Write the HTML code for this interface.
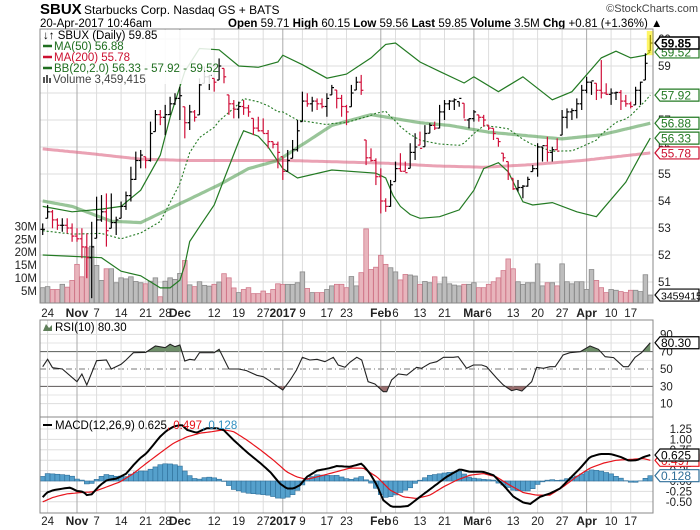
<!DOCTYPE html>
<html><head><meta charset="utf-8"><style>
html,body{margin:0;padding:0;background:#fff;}
svg{display:block;font-family:"Liberation Sans",sans-serif;}
</style></head><body>
<svg id="chart" width="700" height="530" viewBox="0 0 700 530" xmlns="http://www.w3.org/2000/svg">
<g>
<text x="40" y="14" font-size="15" font-weight="bold">SBUX</text>
<text x="84" y="14" font-size="12">Starbucks Corp. Nasdaq GS + BATS</text>
<text x="40" y="27" font-size="11.5">20-Apr-2017 10:46am</text>
<text x="228" y="27" font-size="11.5"><tspan font-weight="bold">Open</tspan> 59.71 <tspan font-weight="bold">High</tspan> 60.15 <tspan font-weight="bold">Low</tspan> 59.56 <tspan font-weight="bold">Last</tspan> 59.85 <tspan font-weight="bold">Volume</tspan> 3.5M <tspan font-weight="bold">Chg</tspan> +0.81 (+1.36%) ▲</text>
<text x="698" y="12" font-size="11" text-anchor="end" fill="#444">©StockCharts.com</text>
</g>
<g id="grid"></g>
<g id="marks"></g>
<g id="labels"></g>
</svg>
<script>
// ---- data ----
const highs = [53.17,53.85,53.67,53.36,53.36,53.36,53.17,52.99,52.99,52.8, 53.23,54.16,54.22,54.28,54.28,53.42,53.98,54.35,55.27,55.83, 55.89,55.64,56.94,57.37,57.37,57.56,57.86,57.99,58.23,57.49, 57.56,57.37,58.54,58.98,58.67,58.54,59.28,58.91,57.93,57.74, 57.68,57.74,57.56,57.06,57.12,57.06,56.63,56.2,56.2,55.64, 55.89,56.26,57.0,58.05,57.99,57.86,57.8,57.8,57.99,58.3, 58.11,57.93,57.56,58.3,58.6,58.67,56.26,55.95,55.58,55.21, 54.1,54.78,55.46,55.77,55.46,56.14,56.51,56.57,56.81,56.88, 56.94,57.56,57.74,57.74,57.8,57.68,57.62,57.06,57.37,57.19, 57.19,56.81,56.69,56.32,55.77,55.46,54.84,54.78,54.59,54.9, 55.33,56.14,56.01,56.38,56.01,56.32,57.37,57.43,57.43,57.8, 58.3,58.6,58.42,58.36,59.22,58.36,58.17,58.05,58.11,57.93, 57.68,58.23,58.42,59.47,60.15];
const lows = [52.74,53.36,52.99,52.93,52.86,52.8,52.49,52.49,51.88,51.14, 50.4,52.62,53.23,52.31,52.99,52.74,53.36,53.67,53.98,54.78, 55.21,55.21,55.46,56.57,56.81,56.44,57.19,57.56,57.0,56.32, 56.63,56.94,57.19,58.36,58.11,58.05,58.48,58.36,57.19,57.06, 57.06,57.19,57.12,56.44,56.57,56.51,55.95,55.95,55.21,54.78, 55.09,55.58,55.83,56.94,57.49,57.31,57.37,57.43,57.12,57.93, 57.43,57.12,56.81,57.49,58.11,57.93,55.33,55.46,54.59,53.54, 53.6,53.79,54.72,55.09,55.09,55.21,55.52,56.07,56.01,56.51, 56.63,56.69,57.0,57.37,57.37,57.49,57.06,56.69,56.94,56.94, 56.75,56.63,56.26,56.01,55.46,54.78,54.41,54.35,54.1,54.53, 55.09,54.9,55.46,55.46,55.46,55.89,56.44,56.69,57.0,57.06, 57.37,57.99,57.93,57.74,57.8,57.93,57.56,57.74,57.37,57.49, 57.43,57.56,57.56,58.48,59.56];
const closes = [52.95,53.6,53.3,53.1,53.1,53.0,52.7,52.6,52.3,51.9, 52.3,53.3,53.6,52.9,53.2,53.3,53.8,54.2,54.8,55.5, 55.7,55.5,56.5,57.2,57.1,57.2,57.6,57.8,57.9,56.9, 57.3,57.1,58.3,58.6,58.65,58.4,59.0,58.6,57.6,57.4, 57.5,57.45,57.3,56.7,56.6,56.5,56.2,56.1,55.8,55.1, 55.5,55.9,56.6,57.7,57.6,57.7,57.6,57.5,57.8,58.2, 57.8,57.5,57.3,58.0,58.4,58.1,55.6,55.5,54.9,54.0, 53.8,54.6,55.2,55.1,55.05,55.8,56.0,55.95,56.5,56.8, 56.7,57.3,57.6,57.7,57.75,57.8,57.0,57.05,57.3,57.1, 57.0,56.7,56.5,56.2,55.6,55.0,54.45,54.5,54.55,54.8, 55.2,56.0,56.05,55.8,55.9,55.85,57.1,57.3,57.35,57.6, 58.1,58.4,58.45,58.1,58.0,57.95,58.0,58.02,57.7,57.6, 57.5,58.1,58.4,59.1,59.85];
const volumes = [6.3,6.7,5.6,5.6,7.6,6.5,9.1,15.3,10.5,21.7, 22.3,14.9,9.1,13.6,13.6,8.2,10.1,9.7,10.5,8.7, 8.2,7.8,8.8,10.1,2.8,8.8,10.1,9.5,11.8,16.8, 7.4,6.7,8.6,7.2,6.9,7.6,8.5,11.7,10.1,6.2, 4.4,5.6,6.3,4.0,4.0,5.0,4.0,5.6,7.8,7.6, 7.6,7.6,8.2,12.4,6.0,4.4,4.4,4.4,5.6,7.0, 7.6,7.6,6.3,10.6,7.0,12.1,29.0,13.3,14.2,18.8, 15.3,14.0,12.4,9.3,11.4,11.2,10.8,7.6,8.7,8.2, 10.5,7.8,10.4,7.8,7.3,7.0,7.6,7.6,8.2,6.3, 6.3,7.6,8.6,10.1,12.9,17.4,13.6,8.6,7.6,8.2, 8.2,15.5,7.0,8.2,8.2,7.0,15.5,8.6,7.8,8.6, 8.6,5.6,13.3,9.1,6.3,4.4,5.6,5.3,4.8,4.4, 5.3,5.3,4.8,11.3,3.46];
const ma50Idx = [0,6,14,20,28,36,42,48,59,67,77,83,91,106,114,124];
const ma50Val = [54.0,53.8,53.25,53.2,53.9,54.6,55.2,55.5,56.8,57.2,56.9,56.8,56.55,56.3,56.45,56.88];
const ma200Idx = [0,10,20,30,40,50,60,70,80,90,100,110,120,124];
const ma200Val = [55.93,55.75,55.55,55.5,55.5,55.5,55.45,55.4,55.3,55.25,55.35,55.5,55.7,55.78];
const bbUpIdx = [0,6,12,16,20,24,26,29,32,36,40,44,48,49,53,58,62,67,70,72,77,81,86,88,93,98,104,108,114,117,120,123,124];
const bbUpVal = [53.8,53.6,53.7,53.8,54.4,55.7,57.1,58.8,59.65,59.6,59.0,58.95,59.15,59.4,59.05,58.55,58.7,59.3,59.8,59.85,59.15,58.8,58.37,58.6,58.05,58.6,57.75,58.05,59.3,59.55,59.3,59.4,59.52];
const bbLoIdx = [0,12,16,20,24,26,28,29,30,32,35,37,40,41,44,46,49,52,59,68,70,71.5,73,75,77,81,85,88,90,93,95,98,100,104,109,113,119,122,124];
const bbLoVal = [52.0,51.9,51.4,51.23,50.78,50.78,51.07,51.63,52.5,53.05,53.85,54.8,56.2,56.6,56.4,56.0,55.2,54.85,55.15,55.03,54.85,54.2,53.8,53.5,53.36,53.42,53.67,54.4,55.2,55.42,55.08,53.97,53.85,53.94,53.6,53.42,54.7,55.7,56.33];
const rsiIdx = [0,1,2,4,7,8,9,11,13,14,16,17,18.5,21,23,25,26,27,28,29,30,31,32,35,36,38,40,41.6,43.7,45,46.4,47.8,49,50.5,51.8,53,54.5,56,57.6,59.3,60.3,61.7,62.7,64.1,65.1,66.4,67.8,69.5,70.2,71.2,72.6,74.3,76.3,77.3,79,80.4,81.8,83.8,84.8,86.5,87.9,89.6,90.6,92.7,94,95.7,96.7,97.8,99.8,100.8,102.2,103.5,104.6,106.2,107.6,109.7,111.7,113.4,114.8,116.5,118.5,119.5,120.9,122.2,124];
const rsiVal = [52.7,61.2,51.5,50,35.4,44.2,31.5,59.6,60.4,50,55.4,60.4,68.8,69.2,76.5,74.6,78.5,75.7,77.7,59.2,61.2,60.4,68.8,68.8,72.7,50,50,48.1,42.7,41.1,36.2,30.4,25.8,37.3,48.8,63.5,60.4,61.2,58.4,63.5,54.6,52,57.7,63.5,60.4,35.4,32.7,23.8,23.8,37.3,44.2,43.1,52,50.8,56.5,58.4,63.5,63.5,64.2,50.8,54.6,54.6,52.7,39.2,31.5,25,26.5,24.6,35.4,52,50.8,52.7,52.7,66.1,68.8,70,76.5,72.7,64.2,63.1,52.7,52.7,63.5,68.8,80.3];
const macdIdx = [0,0.8,2.2,4.2,5.6,7,8.3,9,10,11.7,13.1,15.1,17.1,18.5,19.9,21.2,22.6,23.9,25.3,26.7,28.4,29.4,31.4,33.5,35.5,36.9,38.9,41.6,44.4,46.4,48.4,49.8,51.2,52.5,53.9,56,58.6,60,62.7,65.1,66.8,68.2,69.5,71.2,72.9,74.6,77,79.7,82.4,85.1,87.2,89.9,92,94,96.1,98.1,99.5,101.5,103.5,105.6,107.6,109.7,111.7,113.8,115.8,117.9,119.6,121.3,122.7,124];
const macdVal = [-0.39,-0.28,-0.22,-0.18,-0.16,-0.24,-0.26,-0.34,-0.32,-0.10,0.02,0.06,0.18,0.38,0.55,0.67,0.87,1.06,1.21,1.31,1.35,1.23,1.16,1.27,1.27,1.23,0.99,0.70,0.43,0.22,-0.06,-0.18,-0.18,-0.10,0.10,0.25,0.31,0.36,0.34,0.42,0.18,-0.10,-0.46,-0.62,-0.62,-0.60,-0.38,-0.14,0.10,0.28,0.22,0.22,0.14,-0.10,-0.38,-0.52,-0.55,-0.38,-0.30,-0.18,0.06,0.31,0.58,0.65,0.65,0.58,0.49,0.50,0.58,0.625];
const sigIdx = [0,2.2,4.9,7.6,10.3,13.1,15.8,18.5,21.2,23.9,26.7,29.4,32.1,34.8,36.9,38.9,41.6,44.4,47.1,49.8,51.8,53.9,56,58.6,62.7,65.4,68.2,70.9,73.6,76.3,79,81.8,84.5,87.2,89.9,92.6,95.3,98.1,100.8,103.5,106.2,108.9,111.7,114.4,117.1,119.8,122.5,124];
const sigVal = [-0.50,-0.39,-0.31,-0.28,-0.26,-0.14,-0.02,0.18,0.43,0.67,0.91,1.06,1.15,1.19,1.23,1.19,0.99,0.75,0.50,0.22,0.10,0.04,0.10,0.18,0.31,0.31,0.10,-0.22,-0.38,-0.42,-0.34,-0.14,0.02,0.14,0.18,0.10,-0.10,-0.28,-0.34,-0.34,-0.14,0.10,0.31,0.43,0.50,0.52,0.54,0.497];
const tickIdx = [1,7,11,16,21,25,28,35,40,45,49,53,58,62,69,72,77,82,88,91,96,101,106,111,116,120];
const tickLabels = ['24','Nov','7','14','21','28','Dec','12','19','27','2017','9','17','23','Feb','6','13','21','Mar','6','13','20','27','Apr','10','17'];
const monthTicks = ['Nov','Dec','2017','Feb','Mar','Apr'];
const priceTicks = [51,52,53,54,55,56,57,58,59,60];
const volTicks = [5,10,15,20,25,30];
const rsiTicks = [10,30,50,70,90];
const macdTicks = [-0.5,-0.25,0,0.25,0.5,0.75,1.0,1.25];

// ---- geometry ----
const L=40, R=653;
const PT=29, PB=303, RT=320, RB=417, MT=417, MB=513;
const xOf = i => 42.7 + i*4.9;
const yP = p => 282 - (p-51)*27;
const yV = v => 304 - v*2.59;
const yR = r => 369 - (r-50)*0.867;
const yM = m => 481 - m*41.6;
const NS='http://www.w3.org/2000/svg';
const grid=document.getElementById('grid'), marks=document.getElementById('marks'), labels=document.getElementById('labels');
function mk(tag, attrs, parent){const e=document.createElementNS(NS,tag);for(const k in attrs)e.setAttribute(k,attrs[k]);parent.appendChild(e);return e;}
function interp(ix, vals, i){
  if(i<=ix[0])return vals[0];
  for(let k=1;k<ix.length;k++){if(i<=ix[k]){const t=(i-ix[k-1])/(ix[k]-ix[k-1]);return vals[k-1]+t*(vals[k]-vals[k-1]);}}
  return vals[vals.length-1];
}
function pathFrom(ix, vals, yf){
  let d='';for(let k=0;k<ix.length;k++){d+=(k?'L':'M')+xOf(ix[k]).toFixed(1)+','+yf(vals[k]).toFixed(1);}return d;
}
function dense(ix, vals, yf){
  let d='';for(let i=0;i<=124;i+=0.5){d+=(i?'L':'M')+xOf(i).toFixed(1)+','+yf(interp(ix,vals,i)).toFixed(1);}return d;
}

[[PT,PB,'price-panel'],[RT,RB,'rsi-panel'],[MT,MB,'macd-panel']].forEach(p=>{
  const r=mk('rect',{x:L,y:p[0],width:R-L,height:p[1]-p[0],fill:'#fff',stroke:'none'},grid);
  
  
});
priceTicks.forEach(t=>{const y=yP(t);if(y>PT&&y<PB){const l=mk('line',{x1:L,x2:R,y1:y,y2:y,stroke:'#ddd'},grid);}});
[20,40,60,80].forEach(t=>{mk('line',{x1:L,x2:R,y1:yR(t),y2:yR(t),stroke:'#e4e4e4'},grid);});
rsiTicks.forEach(t=>{const y=yR(t);
  const st=(t==30||t==70)?{stroke:'#555'}:(t==50?{stroke:'#777','stroke-dasharray':'6,3,1,3'}:{stroke:'#ddd'});
  const l=mk('line',Object.assign({x1:L,x2:R,y1:y,y2:y},st),grid);
  
  
});
macdTicks.forEach(t=>{const l=mk('line',{x1:L,x2:R,y1:yM(t),y2:yM(t),stroke:'#ddd'},grid);});
tickIdx.forEach((ti,k)=>{
  const x=xOf(ti), isM=monthTicks.includes(tickLabels[k]);
  [[PT,PB],[RT,RB],[MT,MB]].forEach(p=>{mk('line',{x1:x,x2:x,y1:p[0],y2:p[1],stroke:isM?'#aaa':'#ddd'},grid);});
  [317,525].forEach(yy=>{
    const t=mk('text',{x:x,y:yy,'font-size':isM?12:11.5,'font-weight':isM?'bold':'normal','text-anchor':'middle',fill:'#222'},labels);
    t.textContent=tickLabels[k];
    
    
  });
});
mk('rect',{x:L,y:PT,width:R-L,height:PB-PT,fill:'none',stroke:'#888'},labels);
mk('rect',{x:L,y:RT,width:R-L,height:RB-RT,fill:'none',stroke:'#888'},labels);
mk('rect',{x:L,y:MT,width:R-L,height:MB-MT,fill:'none',stroke:'#888'},labels);

for(let i=0;i<volumes.length;i++){
  const dn = i>0 && closes[i]<closes[i-1];
  const y=yV(volumes[i]);
  const b=mk('rect',{x:xOf(i)-2.3,y:y,width:4.6,height:PB-y,fill:dn?'#e8b4bc':'#bdbdbd',stroke:dn?'#d0788a':'#8a8a8a','stroke-width':0.8},marks);
  
  
}
let e=mk('path',{d:dense(ma200Idx,ma200Val,yP),fill:'none',stroke:'rgba(220,100,130,0.6)','stroke-width':3},marks);


e=mk('path',{d:dense(ma50Idx,ma50Val,yP),fill:'none',stroke:'rgba(70,150,70,0.55)','stroke-width':3.2},marks);


e=mk('path',{d:pathFrom(bbUpIdx,bbUpVal,yP),fill:'none',stroke:'#237a23','stroke-width':1.2},marks);


e=mk('path',{d:pathFrom(bbLoIdx,bbLoVal,yP),fill:'none',stroke:'#237a23','stroke-width':1.2},marks);


let md='';for(let i=0;i<=124;i+=1){const m=(interp(bbUpIdx,bbUpVal,i)+interp(bbLoIdx,bbLoVal,i))/2;md+=(i?'L':'M')+xOf(i).toFixed(1)+','+yP(m).toFixed(1);}
e=mk('path',{d:md,fill:'none',stroke:'#237a23','stroke-width':1.1,'stroke-dasharray':'2,2'},marks);


for(let i=0;i<closes.length;i++){
  const dn = i>0 && closes[i]<closes[i-1];
  const col = dn?'#d0103a':'#000';
  const x=xOf(i), op = i>0?closes[i-1]:closes[i];
  const g=mk('g',{stroke:col,'stroke-width':1.2},marks);
  
  
  mk('line',{x1:x,x2:x,y1:yP(highs[i]),y2:yP(lows[i])},g);
  const oy=yP(Math.min(Math.max(op,lows[i]),highs[i]));
  mk('line',{x1:x-2.2,x2:x,y1:oy,y2:oy},g);
  mk('line',{x1:x,x2:x+2.2,y1:yP(closes[i]),y2:yP(closes[i])},g);
}
mk('rect',{x:xOf(124)-3.5,y:yP(60.3),width:7,height:yP(59.4)-yP(60.3),fill:'rgba(255,240,0,0.6)'},marks);

const rsiD=dense(rsiIdx,rsiVal,yR);
const defs=mk('defs',{},marks);
const c1=mk('clipPath',{id:'above70'},defs);mk('rect',{x:L,y:RT,width:R-L,height:yR(70)-RT},c1);
const c2=mk('clipPath',{id:'below30'},defs);mk('rect',{x:L,y:yR(30),width:R-L,height:RB-yR(30)},c2);
e=mk('path',{d:rsiD+'L'+xOf(124)+','+yR(70)+'L'+xOf(0)+','+yR(70)+'Z',fill:'#6f8f6a','clip-path':'url(#above70)'},marks);


e=mk('path',{d:rsiD+'L'+xOf(124)+','+yR(30)+'L'+xOf(0)+','+yR(30)+'Z',fill:'#9a6f6f','clip-path':'url(#below30)'},marks);


e=mk('path',{d:pathFrom(rsiIdx,rsiVal,yR),fill:'none',stroke:'#222','stroke-width':1.1},marks);



for(let i=0;i<=124;i++){
  const h=interp(macdIdx,macdVal,i)-interp(sigIdx,sigVal,i);
  const y0=yM(0), y1=yM(h);
  const b=mk('rect',{x:xOf(i)-2.45,y:Math.min(y0,y1),width:4.9,height:Math.abs(y1-y0),fill:'#55a0cc',stroke:'#2f6f99','stroke-width':0.6},marks);
  
  
}
e=mk('path',{d:dense(sigIdx,sigVal,yM),fill:'none',stroke:'#e8141c','stroke-width':1.2},marks);


e=mk('path',{d:dense(macdIdx,macdVal,yM),fill:'none',stroke:'#000','stroke-width':2},marks);



function txt(x,y,s,opt,name){const t=mk('text',Object.assign({x:x,y:y,'font-size':11.5,fill:'#222'},opt||{}),labels);t.textContent=s;return t;}
priceTicks.forEach(t=>{const y=yP(t);if(y>PT+4&&y<PB)txt(658,y+4,String(t),{},'price-tick-label');});
volTicks.forEach(v=>txt(37,yV(v)+4,v+'M',{'text-anchor':'end'},'volume-tick-label'));
rsiTicks.forEach(r=>txt(660,yR(r)+4,String(r),{},'rsi-tick-label'));
macdTicks.forEach(m=>txt(692,yM(m)+4,m.toFixed(2),{'text-anchor':'end'},'macd-tick-label'));
function box(y,s,col,bold,name,fs){
  const g=mk('g',{},labels);
  
  
  mk('path',{d:`M655,${y} L660,${y-6} L699,${y-6} L699,${y+6} L660,${y+6} Z`,fill:'#fff',stroke:col,'stroke-width':bold?1.5:1.2},g);
  const t=mk('text',{x:661,y:y+4.5,'font-size':fs||12,fill:bold?'#000':col,'font-weight':bold?'bold':'normal'},g);t.textContent=s;
}
box(yP(56.33),'56.33','#237a23',false,'bb-lower-value-tag');
box(yP(55.78),'55.78','#cc1030',false,'ma200-value-tag');
box(yP(56.88),'56.88','#237a23',false,'ma50-value-tag');
box(yP(57.92),'57.92','#237a23',false,'bb-middle-value-tag');
box(yP(59.52),'59.52','#237a23',false,'bb-upper-value-tag');
box(yP(59.85),'59.85','#000',true,'last-price-tag');
box(yV(3.46),'3459415','#000',false,'volume-value-tag',10.5);
box(yR(80.3),'80.30','#000',false,'rsi-value-tag');
box(yM(0.128),'0.128','#2f6f99',false,'histogram-value-tag');
box(yM(0.497),'0.497','#e8141c',false,'signal-value-tag');
box(yM(0.625),'0.625','#000',false,'macd-value-tag');

const lg=mk('g',{'font-size':11.5},labels);


mk('rect',{x:41,y:30,width:170,height:54,fill:'rgba(255,255,255,0.85)'},lg);
let t=mk('text',{x:43,y:39},lg);t.textContent='↓↑ SBUX (Daily) 59.85';
[[50,'MA(50) 56.88','#1f6e1f'],[61,'MA(200) 55.78','#cc1030'],[72,'BB(20,2.0) 56.33 - 57.92 - 59.52','#1f6e1f']].forEach(a=>{
  mk('line',{x1:43,x2:52,y1:a[0]-4,y2:a[0]-4,stroke:a[2],'stroke-width':2.5},lg);
  const tt=mk('text',{x:54,y:a[0],fill:a[2]},lg);tt.textContent=a[1];
});
mk('rect',{x:43,y:77,width:2,height:6,fill:'#555'},lg);mk('rect',{x:46,y:75,width:2,height:8,fill:'#555'},lg);mk('rect',{x:49,y:78,width:2,height:5,fill:'#555'},lg);
t=mk('text',{x:53,y:83,fill:'#444'},lg);t.textContent='Volume 3,459,415';
const rl=mk('g',{'font-size':11.5},labels);


mk('path',{d:'M43,331 L46,324 L49,328 L52,325 L52,331 Z',fill:'#5f7f5a'},rl);
t=mk('text',{x:55,y:331},rl);t.textContent='RSI(10) 80.30';
const ml=mk('g',{'font-size':11.5},labels);


mk('line',{x1:43,x2:52,y1:425,y2:425,stroke:'#000','stroke-width':2},ml);
t=mk('text',{x:55,y:429},ml);
t.innerHTML='MACD(12,26,9) 0.625<tspan fill="#e8141c">, 0.497</tspan><tspan fill="#2f8fc0">, 0.128</tspan>';
</script>
</body></html>
